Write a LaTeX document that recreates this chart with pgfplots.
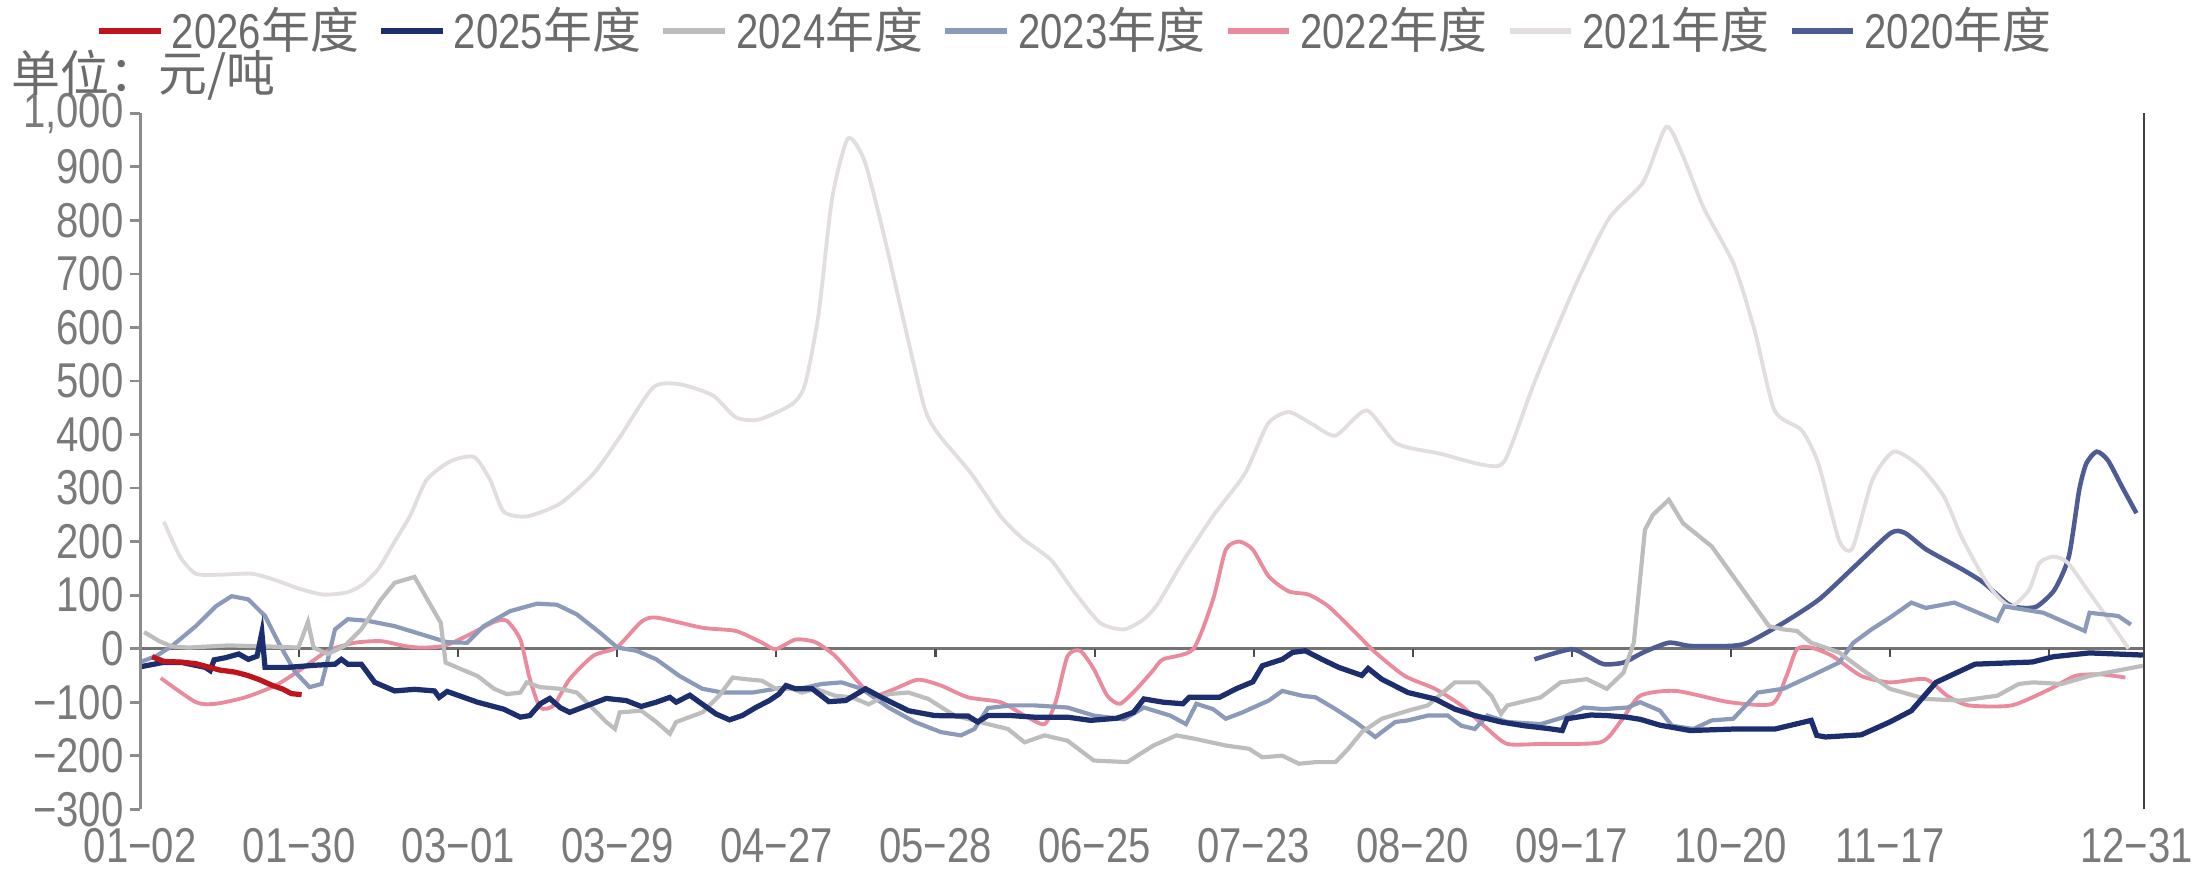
\documentclass[border=0pt]{standalone}
\usepackage{pgfplots}
\pgfplotsset{compat=1.18}
\usepackage{fontspec}
\setmainfont{Liberation Sans}[FakeStretch=0.82]
\newfontfamily\cjk{Noto Sans CJK SC}
\definecolor{c2026}{HTML}{C0141C}
\definecolor{c2025}{HTML}{1C2E6E}
\definecolor{c2024}{HTML}{BDBDBD}
\definecolor{c2023}{HTML}{8A9AB8}
\definecolor{c2022}{HTML}{E98B9C}
\definecolor{c2021}{HTML}{E3DEDE}
\definecolor{c2020}{HTML}{4E5C94}
\definecolor{tkgray}{HTML}{7A7A7A}
\definecolor{lggray}{HTML}{6B6B6B}
\definecolor{axgray}{HTML}{8C8C8C}
\begin{document}
\begin{tikzpicture}
\begin{axis}[
  scale only axis, width=201.6mm, height=70mm,
  xmin=0, xmax=252, ymin=-300, ymax=1000,
  clip=false,
  axis line style={draw=none},
  xtick={0,20,40,60,80,100,120,140,160,180,200,220,251},
  xticklabels={01−02,01−30,03−01,03−29,04−27,05−28,06−25,07−23,08−20,09−17,10−20,11−17,12−31},
  ytick={-300,-200,-100,0,100,200,300,400,500,600,700,800,900,1000},
  yticklabels={−300,−200,−100,0,100,200,300,400,500,600,700,800,900,{1,000}},
  xtick pos=bottom, ytick pos=left, tick align=outside,
  xtick style={draw=none},
  ytick style={draw=axgray, line width=0.8pt},
  major tick length=1mm,
  tick label style={font=\fontsize{14}{16}\selectfont, text=tkgray},
  yticklabel style={inner sep=0pt, xshift=-0.6mm},
  xticklabel style={inner sep=0pt, yshift=-0.9mm},
  reverse legend,
  legend columns=7,
  legend cell align=left,
  legend style={at={(axis description cs:-0.0223,1.153)}, anchor=north west,
    draw=none, fill=none, inner sep=0pt,
    font=\fontsize{14}{16}\selectfont, text=lggray,
    nodes={inner sep=0pt},
    /tikz/every odd column/.append style={column sep=0.85mm},
    /tikz/every even column/.append style={column sep=1.95mm}},
  legend image code/.code={\draw[#1, line width=1.6pt] (0mm,0mm) -- (6.2mm,0mm);},
]
% zero line and its small ticks
\draw[gray!90!black, line width=0.8pt] (axis cs:0,0) -- (axis cs:252,0);
\pgfplotsinvokeforeach{20,40,60,80,100,120,140,160,180,200,220,240}{
  \draw[gray!60!black, line width=0.6pt] (axis cs:#1,0) -- ([yshift=-0.8mm]axis cs:#1,0);}

% 2020
\addplot[c2020, line width=1.3pt, smooth, tension=0.4] coordinates {
(175.3,-20)(179.9,-1)(182,-14)(184,-29)(186.5,-26)(189,-7)(192.2,11)(194.9,5)
(199.8,5)(202.1,11)(206.6,48)(211.1,92)(215.6,154)(220.1,216)(221.9,216)(224.6,185)
(229.1,148)(231.8,123)(234.9,83)(236.7,76)(238.5,79)(240.7,110)(242.5,172)(243.8,296)
(244.7,346)(246,368)(247.4,352)(249.2,302)(251,253)};
% 2021
\addplot[c2021, line width=1.1pt, smooth, tension=0.4] coordinates {
(3,237)(5,172)(7,140)(10,138)(14,140)(17,128)(20,112)(23,101)(26,105)(28,120)(30,150)
(32,200)(34,250)(36,315)(39,350)(42,358)(44,315)(45.7,256)(48.6,247)(52.8,271)(57,327)
(60.3,395)(64.5,488)(67.8,494)(72,473)(74.9,432)(77.8,428)(82,457)(83.6,494)(85.3,625)
(87,841)(89,953)(91.1,910)(93.6,767)(96.1,606)(98.6,451)(100.3,402)(104.5,327)(108.2,247)
(111,205)(114.5,166)(117.5,105)(120.7,48)(123.7,36)(126.2,55)(128,85)(131,160)(135,250)
(138.9,327)(141.8,420)(144.4,442)(147.3,420)(150.3,398)(154.2,445)(158,383)(163.5,364)
(169,343)(171.6,352)(175.4,501)(180.5,680)(184.7,804)(189,872)(191.9,975)(194.1,916)
(196.6,823)(200.4,717)(203,594)(205.5,445)(208.9,408)(211,346)(213.6,203)(215.3,188)
(217.8,315)(220.5,368)(223.8,340)(226.8,284)(229,209)(231.7,135)(233.5,98)(235.3,79)
(237.5,110)(238.8,160)(240.6,172)(242.4,160)(245.1,104)(247.8,48)(250,0)};
% 2022
\addplot[c2022, line width=1.1pt, smooth, tension=0.4] coordinates {
(2.6,-55)(7,-100)(9.5,-103)(13.2,-91)(17,-69)(20.3,-38)(23.6,-4)(27,11)(30.3,14)(33.2,5)
(35.3,2)(38.2,5)(41.1,24)(44.5,50)(46.1,52)(47.8,17)(49,-57)(50.3,-110)(52,-106)(54,-57)
(57,-13)(59.9,2)(63,50)(64.9,58)(70.7,39)(74.9,33)(78.2,11)(79.9,-1)(82.4,17)(84.9,12)
(87.4,-14)(90.7,-69)(92.4,-88)(94.9,-75)(97.8,-58)(100.7,-69)(104.1,-91)(108.2,-100)
(111.2,-125)(113.7,-141)(115.1,-100)(116.6,-14)(118.2,-4)(119.9,-38)(121.6,-88)(123.2,-103)
(125.3,-75)(127.4,-40)(128.6,-20)(132.4,-1)(134.9,92)(136.5,185)(138.2,200)(139.9,185)
(141.9,135)(144.4,107)(146.9,101)(149.4,79)(152.8,30)(155.3,-7)(159,-51)(162.8,-75)
(166.1,-106)(169.4,-150)(171.9,-178)(176.1,-178)(183.6,-175)(186.1,-137)(188.6,-88)
(193.1,-79)(199.8,-100)(205.2,-103)(207,-51)(208.3,-1)(210.1,2)(212.8,-14)(216.4,-51)
(220,-63)(224.5,-57)(227.2,-88)(229.9,-106)(235.3,-106)(240.2,-75)(243.3,-51)(246.5,-48)
(249.6,-54)};
% 2023
\addplot[c2023, line width=1.2pt] coordinates {
(0,-25)(2,-14)(4,5)(7,42)(9.5,79)(11.5,98)(13.6,92)(15.7,61)(17.4,11)(19.5,-44)(21.3,-72)
(22.8,-66)(23.6,-20)(24.5,36)(26.1,55)(28.6,52)(32,42)(35.3,27)(38.6,12)(41.1,11)(43.2,42)
(46.5,70)(49.9,84)(52.4,82)(54.9,64)(57.8,30)(60,2)(62.4,-4)(64.9,-20)(67.8,-51)(70.7,-75)
(73.2,-82)(77,-82)(80.3,-74)(83.2,-74)(85.7,-66)(88.2,-63)(90.7,-75)(94.1,-110)(97.4,-137)
(100.7,-156)(103.2,-162)(104.9,-150)(106.6,-111)(109.5,-106)(112.4,-106)(116.6,-110)
(119.9,-125)(123.7,-132)(126.2,-110)(129.5,-125)(131.5,-141)(132.8,-103)(134.9,-113)
(136.5,-131)(138.6,-119)(141.9,-97)(143.6,-79)(146.1,-88)(147.8,-91)(150.3,-113)
(152.8,-137)(155.3,-165)(157.8,-137)(159.4,-134)(161.9,-125)(164.4,-125)(166.1,-144)
(167.8,-150)(169.4,-125)(171.9,-137)(176.1,-141)(179,-128)(181.5,-110)(184,-113)(187,-110)
(188.6,-100)(191.1,-116)(192.6,-144)(195.3,-150)(197.6,-134)(200.3,-131)(203.4,-82)
(206.6,-75)(210.1,-51)(213.6,-26)(215.4,11)(217.7,36)(220,58)(222.7,86)(224.5,76)(228.1,86)
(233.5,52)(234.4,79)(239.3,67)(244.5,33)(245.1,67)(248.7,61)(250.3,45)};
% 2024
\addplot[c2024, line width=1.2pt] coordinates {
(0.5,31)(2.4,14)(4,4)(6.1,2)(11.1,6)(16.1,4)(19.9,2)(21.1,50)(21.8,2)(23.6,-10)(25.7,5)
(27.8,36)(30.3,92)(32,123)(34.5,134)(36.1,92)(37.8,48)(38.4,-26)(40.3,-38)(42.4,-51)
(44.5,-75)(46.1,-85)(47.8,-82)(48.6,-63)(50.3,-72)(52.8,-75)(54.9,-82)(57,-113)(58.6,-137)
(59.7,-150)(60.3,-119)(63,-116)(64.9,-137)(66.6,-159)(67.4,-137)(70.7,-119)(72.8,-88)
(74.5,-54)(76.1,-57)(78.2,-60)(79.9,-75)(82,-75)(83.2,-82)(84.9,-75)(87.4,-88)(89.5,-91)
(91.6,-104)(94.1,-85)(96.6,-82)(99.1,-94)(102.4,-125)(106.6,-141)(109.1,-150)(111.2,-175)
(113.7,-162)(116.6,-172)(119.9,-209)(124.1,-212)(127.4,-181)(130.3,-162)(132.8,-169)
(136.5,-181)(139.4,-187)(141.1,-203)(143.6,-200)(145.7,-215)(147.8,-212)(150.3,-212)
(151.9,-187)(153.6,-156)(156.1,-131)(159.4,-116)(161.9,-106)(165.3,-63)(168.2,-63)
(169.9,-88)(171.1,-122)(171.9,-106)(176.1,-91)(178.6,-63)(181.9,-57)(184.4,-75)(186.5,-45)
(187.8,11)(189.2,222)(190.2,250)(192.2,278)(194,234)(197.6,191)(202.1,98)(204.8,42)
(206.6,36)(208.3,33)(210.1,11)(213.6,-7)(216.4,-38)(220,-75)(224.5,-94)(229,-97)(233.5,-88)
(236.2,-66)(238,-63)(241.6,-66)(245.1,-51)(251.8,-32)};
% 2025
\addplot[c2025, line width=1.5pt] coordinates {
(0,-34)(2.8,-26)(5.3,-26)(8.2,-35)(8.8,-41)(9.3,-21)(10.7,-17)(12.4,-10)(13.6,-20)(14.7,-14)
(15.3,30)(15.7,-35)(18.6,-35)(22,-31)(24.5,-29)(25.3,-20)(26.1,-29)(27.8,-29)(29.5,-63)
(32,-79)(34.5,-76)(37,-79)(37.6,-91)(38.6,-80)(42.4,-100)(45.7,-113)(47.8,-128)(49,-125)
(50.3,-103)(51.5,-93)(52.8,-110)(54,-119)(56.1,-107)(58.6,-93)(61.1,-97)(63,-108)(64.9,-100)
(66.6,-91)(67.4,-100)(69.1,-87)(72.4,-122)(74.1,-133)(75.7,-125)(77.4,-110)(79.1,-97)
(80.3,-85)(81.2,-69)(82.4,-75)(84.5,-75)(86.6,-99)(88.7,-97)(91.2,-75)(93.2,-91)(96.6,-116)
(99.9,-125)(104.1,-126)(105.3,-137)(106.6,-125)(109.5,-125)(112.4,-128)(116.6,-128)
(119.5,-134)(122.8,-130)(124.9,-119)(126.2,-94)(128.6,-100)(131.1,-103)(131.9,-91)
(135.7,-91)(137.8,-75)(139.9,-62)(141.1,-32)(143.6,-20)(144.9,-7)(146.5,-4)(148.6,-20)
(150.7,-35)(153.6,-50)(154.4,-37)(156.1,-57)(159.4,-82)(162.8,-94)(165.3,-113)(167.8,-125)
(171.1,-137)(174,-144)(176.9,-149)(178.8,-153)(179.4,-131)(182.4,-124)(184.4,-125)
(186.9,-128)(188.6,-132)(191.1,-143)(194.9,-153)(200.7,-150)(205.6,-150)(210.1,-134)
(210.8,-162)(211.9,-165)(216.4,-161)(220,-137)(222.7,-116)(225.8,-63)(230.7,-29)
(237.9,-25)(240.6,-15)(245.1,-8)(251.8,-12)};
% 2026
\addplot[c2026, line width=1.5pt] coordinates {
(1.5,-15)(3,-24)(5,-25)(7,-28)(8.5,-34)(10,-40)(12,-44)(13.5,-50)(15,-58)(16.5,-68)
(18,-76)(19,-84)(20.3,-86)};

\legend{2020{\cjk 年度},2021{\cjk 年度},2022{\cjk 年度},2023{\cjk 年度},2024{\cjk 年度},2025{\cjk 年度},2026{\cjk 年度}}

% axis lines
\draw[axgray, line width=0.8pt] (rel axis cs:0,0) -- (rel axis cs:0,1);
\draw[black!75, line width=0.6pt] (rel axis cs:1,0) -- (rel axis cs:1,1);
\node[anchor=west, inner sep=0pt, text=lggray, font=\cjk\fontsize{14}{16}\selectfont]
  at (axis description cs:-0.0645,1.055) {单位：元/吨};
\end{axis}
\path (current axis.south west) ++(-14.1mm,-6.4mm) coordinate (bl);
\path (current axis.south west) ++(208.2mm,81.4mm) coordinate (tr);
\pgfresetboundingbox
\path[use as bounding box] (bl) rectangle (tr);
\end{tikzpicture}
\end{document}
